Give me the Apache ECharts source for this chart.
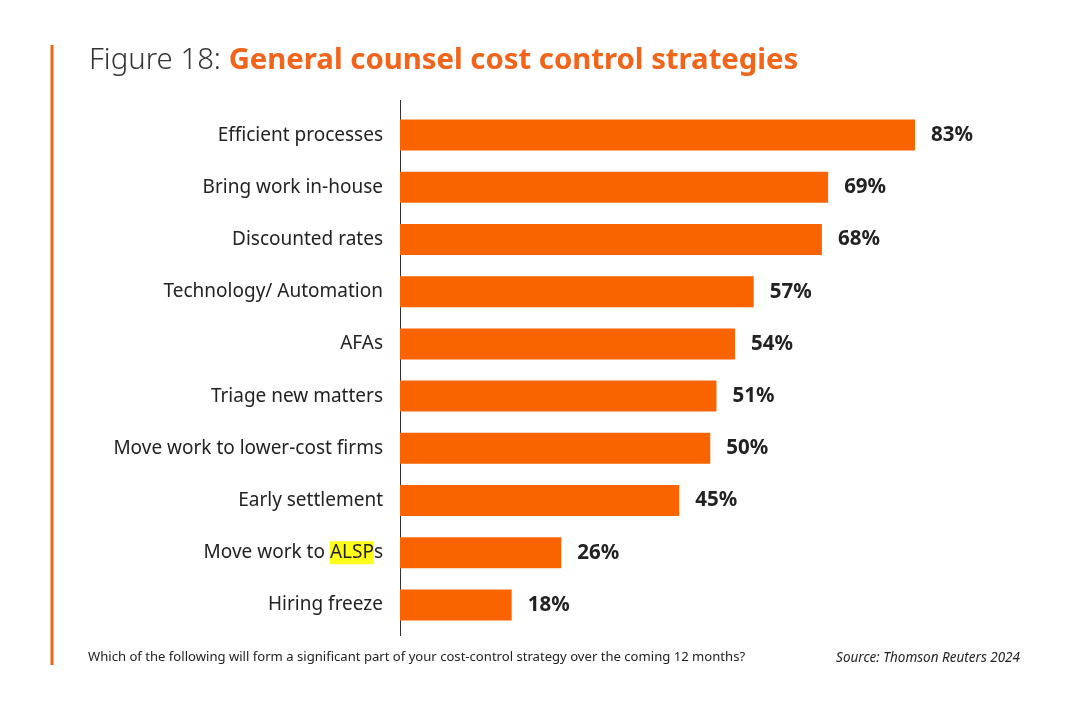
<!DOCTYPE html>
<html><head><meta charset="utf-8">
<script src="https://cdn.jsdelivr.net/npm/echarts@6/dist/echarts.min.js"></script>
<style>html,body{margin:0;padding:0;background:#fff}#c{width:1080px;height:702px}</style>
</head><body><div id="c"></div>
<script>
const categories = ["Efficient processes","Bring work in-house","Discounted rates","Technology/ Automation","AFAs","Triage new matters","Move work to lower-cost firms","Early settlement","Move work to ALSPs","Hiring freeze"];
const values = [83,69,68,57,54,51,50,45,26,18];
const titleLead = "Figure 18: ";
const titleMain = "General counsel cost control strategies";
const footnote = "Which of the following will form a significant part of your cost-control strategy over the coming 12 months?";
const source = "Source: Thomson Reuters 2024";

const FONT = "Noto Sans";
const chart = echarts.init(document.getElementById('c'));
chart.setOption({
  backgroundColor: '#fff',
  animation: false,
  title: {
    left: 84, top: 41,
    text: '{a|' + titleLead + '}{b|' + titleMain + '}',
    textStyle: {
      rich: {
        a: { fontFamily: FONT, fontSize: 29.3, fontWeight: 300, color: '#333' },
        b: { fontFamily: FONT, fontSize: 29.3, fontWeight: 'bold', color: '#f26419' }
      }
    }
  },
  grid: { left: 400, right: 59.5, top: 109, bottom: 71, containLabel: false },
  xAxis: { type: 'value', min: 0, max: 100, show: false },
  yAxis: {
    type: 'category', data: categories, inverse: true,
    axisLine: { show: false }, axisTick: { show: false },
    axisLabel: {
      margin: 17, fontFamily: FONT, fontSize: 19, color: '#222',
      formatter: function (v) {
        if (v.indexOf('ALSP') >= 0) return v.replace('ALSP', '{hl|ALSP}');
        return v;
      },
      rich: { hl: { fontFamily: FONT, fontSize: 19, color: '#222', backgroundColor: '#ffff1a', padding: [2, 0, 2, 0] } }
    }
  },
  series: [{
    type: 'bar', data: values, barWidth: 31,
    itemStyle: { color: '#fa6400' },
    label: { show: true, position: 'right', distance: 16, formatter: '{c}%', fontFamily: FONT, fontSize: 20.5, fontWeight: 'bold', color: '#222' }
  }],
  graphic: [
    { type: 'line', shape: { x1: 52, y1: 45, x2: 52, y2: 665 }, style: { stroke: '#f26419', lineWidth: 3 } },
    { type: 'line', shape: { x1: 400.5, y1: 100, x2: 400.5, y2: 636 }, style: { stroke: '#333', lineWidth: 1 } },
    { type: 'text', left: 88, top: 651, style: { text: footnote, fontFamily: FONT, fontSize: 13.1, fill: '#222' } },
    { type: 'text', right: 60, top: 651, style: { text: source, fontFamily: FONT, fontSize: 13.5, fontStyle: 'italic', fill: '#222' } }
  ]
});
</script></body></html>
